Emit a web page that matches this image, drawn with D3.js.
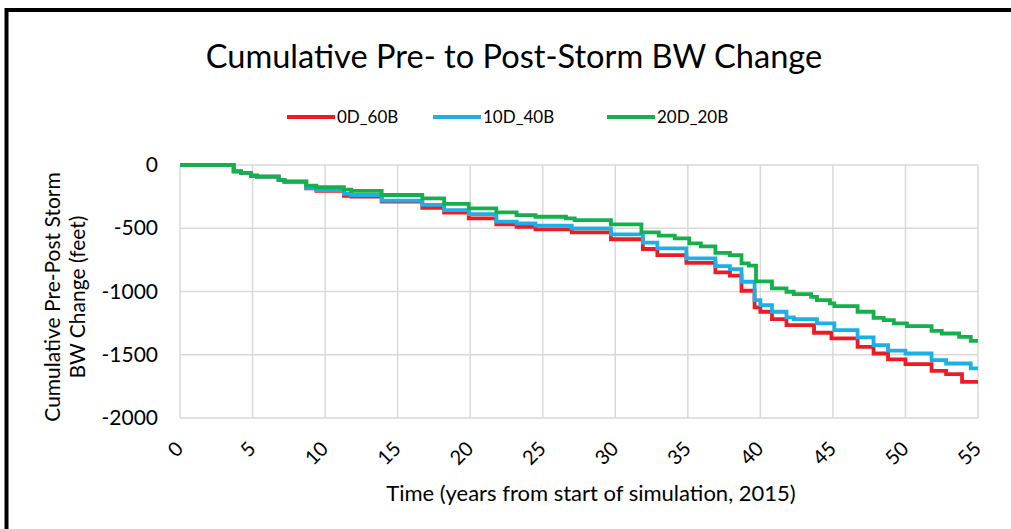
<!DOCTYPE html>
<html>
<head>
<meta charset="utf-8">
<script src="https://cdn.jsdelivr.net/npm/d3@7"></script>
<style>
  body {margin:0; background:#fff;}
  svg text {font-family: Lato, "Open Sans", sans-serif; fill:#000;}
</style>
</head>
<body>
<svg id="chart"></svg>
<script>
// step data: year where the new cumulative value starts, and the value (feet)
var years0D = [0,3.7,4.2,4.9,5.3,6.8,7.2,8.7,9.4,11.3,11.8,13.9,16.7,18.2,19.9,21.8,23.2,24.5,27.0,29.7,31.9,32.9,34.9,36.9,37.9,38.7,39.6,40.0,40.8,41.8,43.7,44.9,46.7,47.8,48.8,50.0,51.8,52.8,53.9,55]
var vals0D  = [0,-50,-62,-85,-92,-119,-132,-185,-205,-243,-250,-290,-338,-377,-422,-469,-488,-509,-532,-587,-664,-712,-773,-849,-875,-994,-1126,-1160,-1218,-1266,-1326,-1371,-1437,-1490,-1537,-1574,-1627,-1653,-1714,-1714]

var years10D = [0,3.7,4.2,4.9,5.3,6.8,7.2,8.7,9.4,11.3,11.8,13.9,16.7,18.2,19.9,21.8,23.2,24.5,27.0,29.7,31.9,32.9,34.9,36.9,37.9,38.7,39.6,40.0,40.8,41.8,42.3,43.9,45.1,46.7,47.8,48.8,50.0,51.8,52.8,54.5,55]
var vals10D  = [0,-50,-62,-85,-92,-119,-132,-180,-198,-229,-237,-282,-316,-356,-388,-448,-461,-480,-501,-548,-614,-659,-738,-799,-823,-923,-1068,-1107,-1160,-1205,-1218,-1252,-1305,-1363,-1424,-1468,-1490,-1542,-1569,-1608,-1608]

var years20D = [0,3.7,4.2,4.9,5.3,6.8,7.2,8.7,9.4,11.3,11.8,13.9,16.7,18.2,19.9,21.8,23.2,24.5,26.6,27.2,29.7,31.8,33.0,34.1,35.1,35.9,36.9,37.9,38.7,39.2,39.7,40.8,41.8,42.3,43.5,43.9,44.8,45.1,46.7,47.8,48.5,49.2,50.1,51.8,52.5,53.7,54.5,55]
var vals20D  = [0,-50,-62,-85,-92,-119,-132,-164,-176,-195,-205,-237,-264,-308,-343,-374,-396,-409,-422,-435,-469,-532,-559,-580,-619,-643,-694,-712,-778,-796,-920,-976,-1002,-1020,-1042,-1068,-1094,-1115,-1160,-1208,-1226,-1252,-1274,-1311,-1332,-1358,-1390,-1390]

var seriesNames = ["0D_60B","10D_40B","20D_20B"]
var seriesColors = ["#ed1c24","#1cb0e6","#14b04c"]
var xTicks = [0,5,10,15,20,25,30,35,40,45,50,55]
var yTicks = [0,-500,-1000,-1500,-2000]

var chartTitle = "Cumulative Pre- to Post-Storm BW Change"
var xTitle = "Time (years from start of simulation, 2015)"
var yTitle = ["Cumulative Pre-Post Storm","BW Change (feet)"]

var screen = {width:1011, height:529}
var margins = {top:165, bottom:111, left:180, right:33}
var graph = {
    width: screen.width-margins.left-margins.right,
    height: screen.height-margins.top-margins.bottom
}

var svg = d3.select("#chart")
    .attr("width", screen.width)
    .attr("height", screen.height)

// chart border (cropped on the right and bottom)
svg.append("rect")
    .attr("x", 6.5).attr("y", 10)
    .attr("width", 1200).attr("height", 800)
    .attr("fill", "none")
    .attr("stroke", "#000")
    .attr("stroke-width", 4)

var xScale = d3.scaleLinear()
    .domain([0,55])
    .range([0,graph.width])
var yScale = d3.scaleLinear()
    .domain([-2000,0])
    .range([graph.height,0])

var g = svg.append("g")
    .classed("graph", true)
    .attr("transform","translate("+margins.left+","+margins.top+")")

// gridlines
g.append("g")
    .selectAll("line")
    .data(xTicks)
    .enter()
    .append("line")
    .attr("x1", function(d){return xScale(d)})
    .attr("x2", function(d){return xScale(d)})
    .attr("y1", 0)
    .attr("y2", graph.height)
    .attr("stroke", "#d9d9d9")
    .attr("stroke-width", 1.5)
g.append("g")
    .selectAll("line")
    .data(yTicks)
    .enter()
    .append("line")
    .attr("x1", 0)
    .attr("x2", graph.width)
    .attr("y1", function(d){return yScale(d)})
    .attr("y2", function(d){return yScale(d)})
    .attr("stroke", "#d9d9d9")
    .attr("stroke-width", 1.5)

// axes, labels only
var yAxis = d3.axisLeft(yScale)
    .tickValues(yTicks)
    .tickFormat(function(d){return String(d)})
    .tickSize(0).tickPadding(22)
var ax = g.append("g").call(yAxis)
ax.select(".domain").remove()
ax.selectAll("text").attr("font-size", 21).style("font-family", "Lato")

var xAxis = d3.axisBottom(xScale).tickValues(xTicks).tickSize(0)
var axx = g.append("g")
    .attr("transform","translate(0,"+graph.height+")")
    .call(xAxis)
axx.select(".domain").remove()
axx.selectAll("text")
    .attr("font-size", 20)
    .style("font-family", "Lato")
    .attr("text-anchor", "end")
    .attr("y", 0).attr("dy", "0.35em")
    .attr("transform", "translate(-1,27) rotate(-45)")

// lines
var series = [
    {name:seriesNames[0], color:seriesColors[0], years:years0D, vals:vals0D},
    {name:seriesNames[1], color:seriesColors[1], years:years10D, vals:vals10D},
    {name:seriesNames[2], color:seriesColors[2], years:years20D, vals:vals20D}
]
var line = d3.line()
    .x(function(d){return xScale(d[0])})
    .y(function(d){return yScale(d[1])})
    .curve(d3.curveStepAfter)

g.selectAll(".line")
    .data(series)
    .enter()
    .append("path")
    .classed("line", true)
    .attr("d", function(s){return line(d3.zip(s.years, s.vals))})
    .attr("fill", "none")
    .attr("stroke", function(s){return s.color})
    .attr("stroke-width", 3.8)

// titles
svg.append("text")
    .text(chartTitle)
    .attr("x", 514).attr("y", 68)
    .attr("text-anchor", "middle")
    .attr("font-size", 32.6)

svg.append("text")
    .text(xTitle)
    .attr("x", 591).attr("y", 501)
    .attr("text-anchor", "middle")
    .attr("font-size", 22)

var yT = svg.append("g").attr("transform", "translate(0,297) rotate(-90)")
yT.selectAll("text")
    .data(yTitle)
    .enter()
    .append("text")
    .text(function(d){return d})
    .attr("x", 0)
    .attr("y", function(d,i){return 60+i*25})
    .attr("text-anchor", "middle")
    .attr("font-size", 21)

// legend
var legendX = [287,433,607]
var legend = svg.append("g").selectAll("g")
    .data(series)
    .enter()
    .append("g")
    .attr("transform", function(s,i){return "translate("+legendX[i]+",117)"})
legend.append("line")
    .attr("x1", 0).attr("x2", 48)
    .attr("stroke", function(s){return s.color})
    .attr("stroke-width", 4)
legend.append("text")
    .text(function(s){return s.name})
    .attr("x", 50).attr("dy", "0.35em")
    .attr("font-size", 17)
</script>
</body>
</html>
